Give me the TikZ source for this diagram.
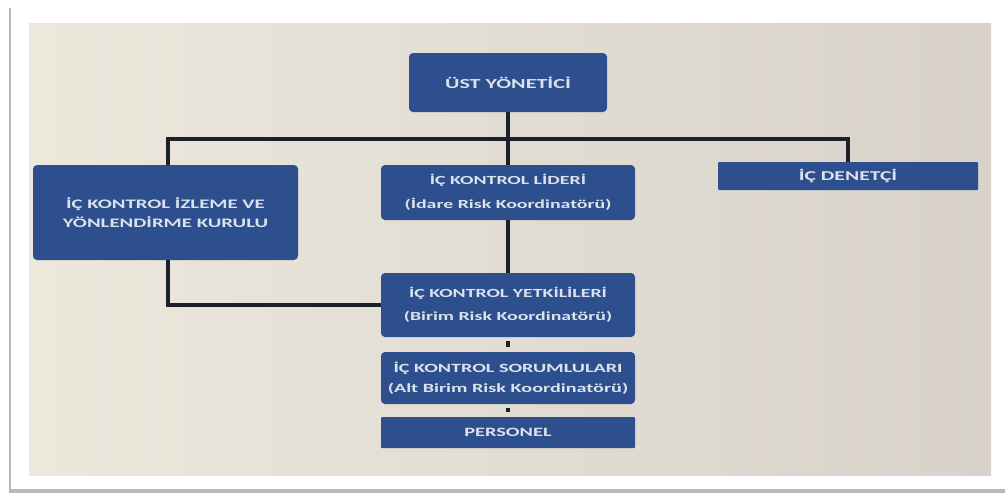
\documentclass[tikz,border=0pt]{standalone}
\usepackage{fontspec}
\newfontfamily\boxfont{Carlito}[FakeStretch=1.6]
\definecolor{boxblue}{HTML}{2E4F8E}
\definecolor{boxtext}{HTML}{DCE2EC}
\definecolor{linedark}{HTML}{1C202B}
\definecolor{paperL}{HTML}{ECE8DC}
\definecolor{paperR}{HTML}{D8D2CA}
\tikzset{
  orgbox/.style={fill=boxblue, rounded corners=4pt, inner sep=0pt, align=center,
    text=boxtext, font=\boxfont\bfseries\fontsize{12.4}{24}\selectfont},
  flatbox/.style={orgbox, rounded corners=1pt},
  link/.style={draw=linedark, line width=3.2pt},
}
\begin{document}
\begin{tikzpicture}[x=1pt,y=-1pt]
\useasboundingbox (0,0) rectangle (1005,496);
\fill[white] (0,0) rectangle (1005,496);
% card with shadow
\fill[gray!55] (9,8) rectangle (1005,493);
\fill[white] (11,5) rectangle (1005,489);
\shade[left color=paperL, right color=paperR] (29,23) rectangle (991,475);
% boxes
\node[orgbox, minimum width=198pt, minimum height=59pt,
      font=\boxfont\bfseries\fontsize{13.8}{24}\selectfont] (top) at (508,82.5) {ÜST YÖNETİCİ};
\node[orgbox, minimum width=265pt, minimum height=95pt,
      font=\boxfont\bfseries\fontsize{13}{19}\selectfont] (izleme) at (165.5,212.5) {İÇ KONTROL İZLEME VE\\YÖNLENDİRME KURULU};
\node[orgbox, minimum width=254pt, minimum height=55pt] (lider) at (508,192.5) {İÇ KONTROL LİDERİ\\(İdare Risk Koordinatörü)};
\node[flatbox, minimum width=260pt, minimum height=28pt,
      font=\boxfont\bfseries\fontsize{13.5}{24}\selectfont] (denetci) at (848,176) {İÇ DENETÇİ};
\node[orgbox, minimum width=254pt, minimum height=64pt,
      font=\boxfont\bfseries\fontsize{12.4}{23}\selectfont] (yetkili) at (508,305) {İÇ KONTROL YETKİLİLERİ\\(Birim Risk Koordinatörü)};
\node[orgbox, minimum width=254pt, minimum height=52pt,
      font=\boxfont\bfseries\fontsize{12.6}{20}\selectfont] (sorumlu) at (508,378) {İÇ KONTROL SORUMLULARI\\(Alt Birim Risk Koordinatörü)};
\node[flatbox, minimum width=254pt, minimum height=31pt,
      font=\boxfont\bfseries\fontsize{12.7}{24}\selectfont] (personel) at (508,432.5) {PERSONEL};
% connectors
\coordinate (bus) at (508,139);
\draw[link] (top.south) -- (lider.north);
\draw[link] (izleme.north -| 168,0) |- (bus) -| (denetci.north);
\draw[link] (izleme.south -| 168,0) |- (yetkili.west);
\draw[link] (lider.south) -- (yetkili.north);
\draw[link, shorten <=4pt, shorten >=5pt] (yetkili.south) -- (sorumlu.north);
\draw[link, shorten <=4pt, shorten >=5pt] (sorumlu.south) -- (personel.north);
\end{tikzpicture}
\end{document}
